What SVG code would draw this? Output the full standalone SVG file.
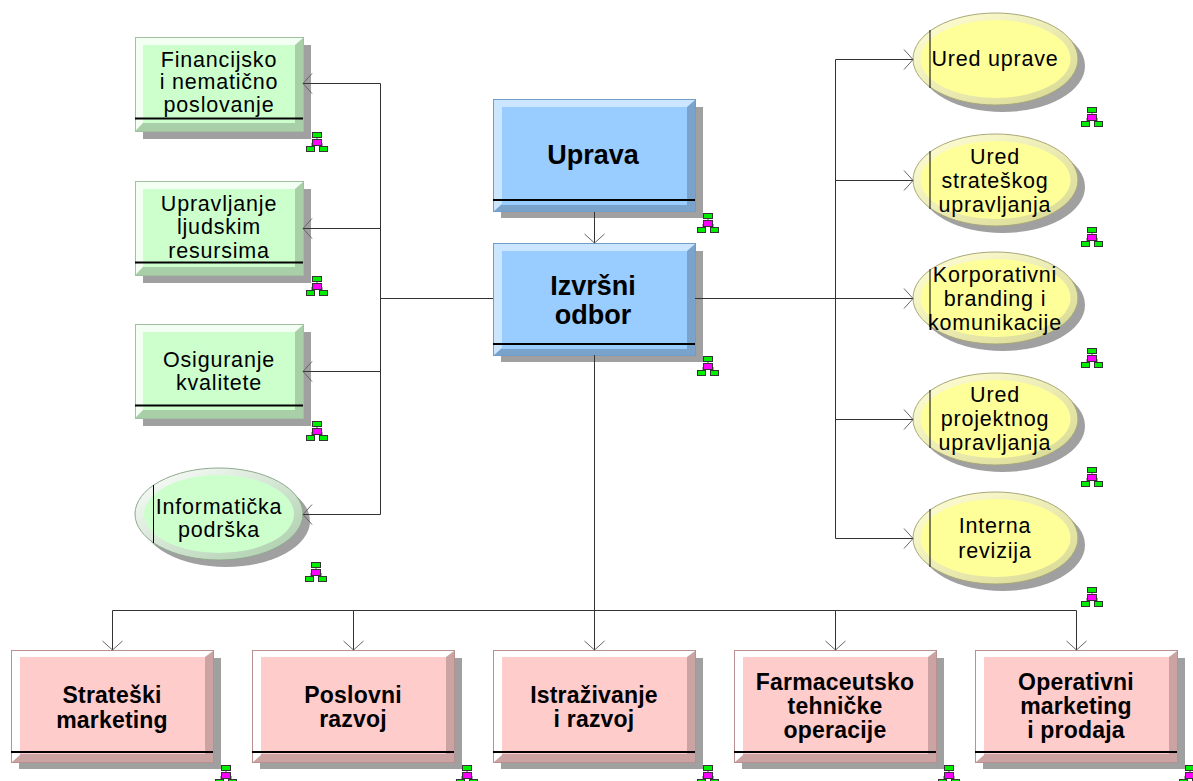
<svg xmlns="http://www.w3.org/2000/svg" width="1193" height="781" viewBox="0 0 1193 781">
<style>
text{font-family:"Liberation Sans",Arial,sans-serif;fill:#000;text-anchor:middle}
.r{font-size:21.500px;letter-spacing:.8px}
.b{font-size:23px;font-weight:bold;letter-spacing:.2px}
.h{font-size:27px;font-weight:bold}
.sh{fill:#a0a0a0}
.cn{fill:none;stroke:#333;stroke-width:1}
.ln{stroke:#000;stroke-width:2;fill:none}
.ll{stroke:#000;stroke-width:1;fill:none}
</style>
<defs>
<marker id="ah" markerUnits="userSpaceOnUse" markerWidth="24" markerHeight="24" refX="11" refY="11" orient="auto">
<path d="M2 1 L11 11 L2 21" fill="none" stroke="#666" stroke-width="1"/>
</marker>
<linearGradient id="gy" x1="0" y1="0" x2="1" y2="1"><stop offset="0" stop-color="#ffffd8"/><stop offset="1" stop-color="#d8d890"/></linearGradient>
<linearGradient id="gg" x1="0" y1="0" x2="1" y2="1"><stop offset="0" stop-color="#ffffff"/><stop offset="1" stop-color="#a8cca8"/></linearGradient>
<g id="ic">
<path d="M0 5V8M-5 17V11H5V17" fill="none" stroke="#555" stroke-width="1"/>
<rect x="-4.500" y="0.500" width="9" height="5" fill="#00ee00" stroke="#333" stroke-width="1"/>
<rect x="-4.500" y="7.500" width="9" height="6" fill="#ff00ff" stroke="#333" stroke-width="1"/>
<rect x="-10.500" y="14.500" width="8" height="5" fill="#00ee00" stroke="#333" stroke-width="1"/>
<rect x="2.500" y="14.500" width="8" height="5" fill="#00ee00" stroke="#333" stroke-width="1"/>
</g>
<g id="bxG">
<rect x="8" y="8" width="168" height="94" class="sh"/>
<rect x="0.500" y="0.500" width="168" height="94" fill="#a9cfa9" stroke="#a0c0a0"/>
<path d="M1 1H168L160 8H8V86L1 93Z" fill="#f2fff2"/>
<rect x="8" y="8" width="152" height="78" fill="#ccffcc"/>
<path d="M0 81.500H168" class="ln"/>
</g>
<g id="bxB">
<rect x="8" y="8" width="202" height="111" class="sh"/>
<rect x="0.500" y="0.500" width="202" height="112" fill="#7aa3cc" stroke="#6f9cc8"/>
<path d="M1 1H202L194 8H9V105L1 112Z" fill="#cce6ff"/>
<rect x="9" y="8" width="185" height="98" fill="#99ccff"/>
<path d="M0 101H202" class="ln"/>
</g>
<g id="bxP">
<rect x="8" y="8" width="202" height="111" class="sh"/>
<rect x="0.500" y="0.500" width="202" height="112" fill="#cca3a3" stroke="#b89090"/>
<path d="M1 1H202L194 7H9V105L1 112Z" fill="#ffffff"/>
<rect x="9" y="7" width="185" height="97" fill="#ffcccc"/>
<path d="M0 102H202" class="ln"/>
</g>
<g id="elY">
<ellipse cx="7" cy="7" rx="82.500" ry="46" class="sh"/>
<ellipse cx="0" cy="0" rx="82.500" ry="46" fill="url(#gy)" stroke="#a8a878" stroke-width="1"/>
<ellipse cx="0" cy="0" rx="75" ry="39" fill="#ffff99"/>
<path d="M-65.500 -29V29" class="ll"/>
</g>
<g id="elG">
<ellipse cx="7" cy="7" rx="84" ry="46" class="sh"/>
<ellipse cx="0" cy="0" rx="84" ry="46" fill="url(#gg)" stroke="#90a890" stroke-width="1"/>
<ellipse cx="0" cy="0" rx="75" ry="39" fill="#ccffcc"/>
<path d="M-65.500 -29V29" class="ll"/>
</g>
</defs>
<rect width="1193" height="781" fill="#fff"/>
<g id="n-uprava"><use href="#bxB" x="493" y="99"/><text class="h" x="593" y="164">Uprava</text><use href="#ic" x="708" y="213"/></g>
<g id="n-izvrsni"><use href="#bxB" x="493" y="243"/><text class="h" x="593" y="295">Izvršni</text><text class="h" x="593" y="324">odbor</text><use href="#ic" x="708" y="356"/></g>
<g id="n-financijsko"><use href="#bxG" x="135" y="37"/><text class="r" x="219" y="67">Financijsko</text><text class="r" x="219" y="89">i nematično</text><text class="r" x="219" y="112">poslovanje</text><use href="#ic" x="317" y="132"/></g>
<g id="n-ljudski"><use href="#bxG" x="135" y="181"/><text class="r" x="219" y="211">Upravljanje</text><text class="r" x="219" y="234">ljudskim</text><text class="r" x="219" y="258">resursima</text><use href="#ic" x="317" y="276"/></g>
<g id="n-kvaliteta"><use href="#bxG" x="135" y="324"/><text class="r" x="219" y="367">Osiguranje</text><text class="r" x="219" y="390">kvalitete</text><use href="#ic" x="317" y="421"/></g>
<g id="n-informaticka"><use href="#elG" x="219" y="514"/><text class="r" x="219" y="514">Informatička</text><text class="r" x="219" y="537">podrška</text><use href="#ic" x="316" y="562"/></g>
<g id="n-ured-uprave"><use href="#elY" x="995.500" y="59"/><text class="r" x="995" y="66">Ured uprave</text><use href="#ic" x="1092" y="107"/></g>
<g id="n-strateskog"><use href="#elY" x="995.500" y="180"/><text class="r" x="995" y="164">Ured</text><text class="r" x="995" y="188">strateškog</text><text class="r" x="995" y="212">upravljanja</text><use href="#ic" x="1092" y="227"/></g>
<g id="n-branding"><use href="#elY" x="995.500" y="298"/><text class="r" x="995" y="282">Korporativni</text><text class="r" x="995" y="306">branding i</text><text class="r" x="995" y="330">komunikacije</text><use href="#ic" x="1092" y="348"/></g>
<g id="n-projektno"><use href="#elY" x="995.500" y="419"/><text class="r" x="995" y="402">Ured</text><text class="r" x="995" y="426">projektnog</text><text class="r" x="995" y="450">upravljanja</text><use href="#ic" x="1092" y="467"/></g>
<g id="n-revizija"><use href="#elY" x="995.500" y="538"/><text class="r" x="995" y="533">Interna</text><text class="r" x="995" y="558">revizija</text><use href="#ic" x="1092" y="587"/></g>
<g id="n-marketing"><use href="#bxP" x="11" y="650"/><text class="b" x="112" y="703">Strateški</text><text class="b" x="112" y="728">marketing</text><use href="#ic" x="226" y="765"/></g>
<g id="n-poslovni"><use href="#bxP" x="252" y="650"/><text class="b" x="353" y="703">Poslovni</text><text class="b" x="353" y="727">razvoj</text><use href="#ic" x="467" y="765"/></g>
<g id="n-istrazivanje"><use href="#bxP" x="493" y="650"/><text class="b" x="594" y="703">Istraživanje</text><text class="b" x="594" y="727">i razvoj</text><use href="#ic" x="708" y="765"/></g>
<g id="n-farmaceutsko"><use href="#bxP" x="734" y="650"/><text class="b" x="835" y="690">Farmaceutsko</text><text class="b" x="835" y="714">tehničke</text><text class="b" x="835" y="738">operacije</text><use href="#ic" x="949" y="765"/></g>
<g id="n-operativni"><use href="#bxP" x="975" y="650"/><text class="b" x="1076" y="690">Operativni</text><text class="b" x="1076" y="714">marketing</text><text class="b" x="1076" y="738">i prodaja</text><use href="#ic" x="1190" y="765"/></g>
<g id="connectors">
<path class="cn" d="M594.500 212V243" marker-end="url(#ah)"/>
<path class="cn" d="M493 298.500H380.500"/>
<path class="cn" d="M380.500 83.500V514.500"/>
<path class="cn" d="M380.500 83.500H303" marker-end="url(#ah)"/>
<path class="cn" d="M380.500 228.500H303" marker-end="url(#ah)"/>
<path class="cn" d="M380.500 371.500H303" marker-end="url(#ah)"/>
<path class="cn" d="M380.500 514.500H303" marker-end="url(#ah)"/>
<path class="cn" d="M695 298.500H835.500"/>
<path class="cn" d="M835.500 59.500V538.500"/>
<path class="cn" d="M835.500 59.500H913" marker-end="url(#ah)"/>
<path class="cn" d="M835.500 180.500H913" marker-end="url(#ah)"/>
<path class="cn" d="M835.500 298.500H913" marker-end="url(#ah)"/>
<path class="cn" d="M835.500 419.500H913" marker-end="url(#ah)"/>
<path class="cn" d="M835.500 538.500H913" marker-end="url(#ah)"/>
<path class="cn" d="M594.500 355V650" marker-end="url(#ah)"/>
<path class="cn" d="M112.500 610.500H1076.500"/>
<path class="cn" d="M112.500 610.500V650" marker-end="url(#ah)"/>
<path class="cn" d="M353.500 610.500V650" marker-end="url(#ah)"/>
<path class="cn" d="M835.500 610.500V650" marker-end="url(#ah)"/>
<path class="cn" d="M1076.500 610.500V650" marker-end="url(#ah)"/>
</g>
</svg>
